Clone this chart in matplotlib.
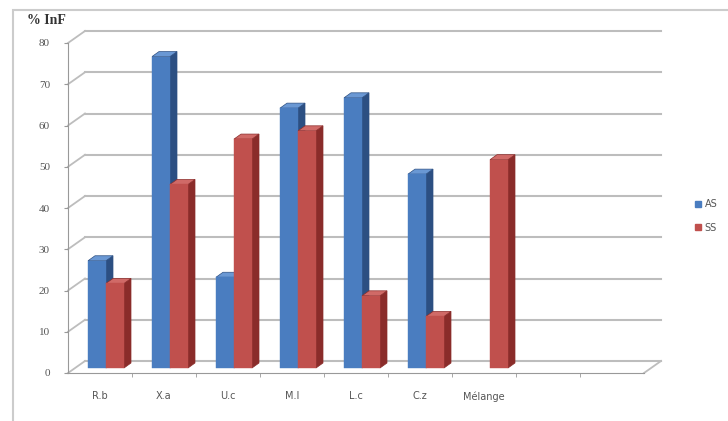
import matplotlib
matplotlib.use("Agg")
import matplotlib.pyplot as plt
from matplotlib.patches import Polygon, Rectangle, Patch

# data
categories = ["R.b", "X.a", "U.c", "M.I", "L.c", "C.z", "Mélange", "", ""]
as_values = [26, 75.5, 22, 63, 65.5, 47, 0]
ss_values = [20.5, 44.5, 55.5, 57.5, 17.5, 12.5, 50.5]
yticks = [0, 10, 20, 30, 40, 50, 60, 70, 80]

# excel 2007 style colours: front, side, top
blue = ("#4a7dc0", "#2c4f82", "#6a98d4")
red = ("#c0504d", "#8a2c2a", "#d06a67")
grid_col = "#bdbdbd"

fig = plt.figure(figsize=(7.28, 4.21), dpi=100)
ax = fig.add_axes([68 / 728, (421 - 373) / 421, 576 / 728, 330 / 421])
ax.set_xlim(-0.5, len(categories) - 0.5)
ax.set_ylim(0, 80)

# depth offsets in data units (1 slot = 64px, 1 unit = 4.125px)
fdx, fdy = 17 / 64, 12 / 4.125      # floor / walls
bdx, bdy = 6 / 64, 5 / 4.125        # bar front offset
ddx, ddy = 7 / 64, 5 / 4.125        # bar depth
w = 18 / 64

x0, x1 = -0.5, len(categories) - 0.5
# walls: gridlines on left and back walls
for v in yticks:
    ax.plot([x0, x0 + fdx], [v, v + fdy], color=grid_col, lw=1.3, clip_on=False, zorder=1)
    ax.plot([x0 + fdx, x1 + fdx], [v + fdy, v + fdy], color=grid_col, lw=1.5, clip_on=False, zorder=1)
# floor right edge
ax.plot([x1, x1 + fdx], [0, fdy], color=grid_col, lw=1.3, clip_on=False, zorder=1)

z = 3
def draw_bar(xl, v, cols):
    global z
    if v <= 0:
        return
    b = bdy
    xr = xl + w
    side = [(xr, b), (xr + ddx, b + ddy), (xr + ddx, b + v + ddy), (xr, b + v)]
    top = [(xl, b + v), (xr, b + v), (xr + ddx, b + v + ddy), (xl + ddx, b + v + ddy)]
    ax.add_patch(Polygon(side, closed=True, fc=cols[1], ec=cols[1], lw=0.5, zorder=z, clip_on=False))
    ax.add_patch(Polygon(top, closed=True, fc=cols[2], ec=cols[1], lw=0.5, zorder=z, clip_on=False))
    ax.bar(xl, v, width=w, bottom=b, align="edge", color=cols[0], edgecolor=cols[0],
           lw=0.3, zorder=z + 1, clip_on=False)
    z += 2

for i in range(len(as_values)):
    draw_bar(i + bdx - w, as_values[i], blue)
    draw_bar(i + bdx, ss_values[i], red)

# axes styling
for s in ["top", "right"]:
    ax.spines[s].set_visible(False)
ax.spines["left"].set_color("#999999")
ax.spines["bottom"].set_color("#999999")
ax.set_yticks(yticks)
ax.set_yticklabels([str(v) for v in yticks], family="Liberation Serif", fontsize=8, color="#555555")
ax.tick_params(axis="y", direction="out", length=3, color="#999999", pad=10)
ax.set_xticks(range(len(categories)))
ax.set_xticklabels(categories, fontsize=7, color="#555555")
ax.set_xticks([i - 0.5 for i in range(1, len(categories))], minor=True)
ax.tick_params(axis="x", which="major", length=0, pad=13)
ax.tick_params(axis="x", which="minor", direction="out", length=3, color="#999999")

fig.text(27 / 728, 1 - 21 / 421, "% InF", family="Liberation Serif", fontsize=10,
         weight="bold", color="#333333", va="center")

handles = [Patch(color=blue[0]), Patch(color=red[0])]
fig.legend(handles, ["AS", "SS"], loc="center left", bbox_to_anchor=(686 / 728, 1 - 216 / 421),
           frameon=False, fontsize=7, handlelength=0.6, handleheight=0.6, handletextpad=0.4,
           labelspacing=1.4, labelcolor="#555555")

fig.add_artist(Rectangle((13 / 728, -0.1), 1.0, (421 - 10) / 421 + 0.1, transform=fig.transFigure,
                         fill=False, ec="#cccccc", lw=1.5))

fig.savefig("out.png", dpi=100)
